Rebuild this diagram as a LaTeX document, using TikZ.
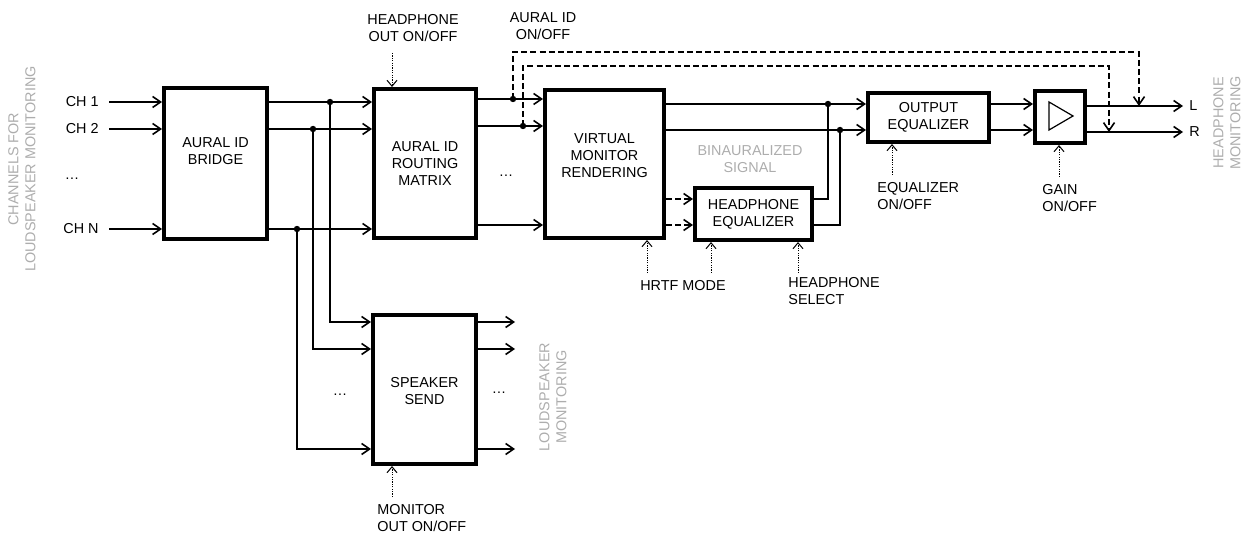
\documentclass[tikz,border=0pt]{standalone}
\usepackage{fontspec}
\setmainfont{Liberation Sans}
\usetikzlibrary{arrows.meta}
\definecolor{lightgry}{gray}{0.68}
\begin{document}
\begin{tikzpicture}[x=0.5pt,y=-0.5pt,
  font=\fontsize{7.2}{8.5}\selectfont,
  blk/.style={draw, line width=2pt, inner sep=0pt, align=center},
  txt/.style={inner sep=0pt, align=center},
  ltxt/.style={inner sep=0pt, align=left, anchor=west},
  gry/.style={inner sep=0pt, align=center, text=lightgry},
  ln/.style={line width=0.8pt},
  arr/.style={ln, -{Straight Barb[length=4pt,width=5.5pt,line width=0.8pt]}},
  dsh/.style={arr, dash pattern=on 3pt off 1.6pt},
  ctl/.style={line width=0.5pt, dash pattern=on 0.6pt off 0.6pt, -{Straight Barb[length=3pt,width=5pt,line width=0.5pt]}},
  dot/.style={circle, fill, inner sep=0pt, minimum size=3.2pt}
]
\useasboundingbox (0,0) rectangle (1246,533);

% blocks
\node[blk, minimum width=51.5pt, minimum height=75.5pt] (bridge) at (215.5,163.5) {};
\node[txt] (bridgetxt) at (215.5,151) {AURAL ID\\BRIDGE};
\node[blk, minimum width=51pt, minimum height=74.5pt] (routing) at (425,163.5) {AURAL ID\\ROUTING\\MATRIX};
\node[blk, minimum width=59.5pt, minimum height=74pt] (vmr) at (604.5,164) {};
\node[txt] (vmrtxt) at (604.5,156) {VIRTUAL\\MONITOR\\RENDERING};
\node[blk, minimum width=51.5pt, minimum height=74.5pt] (send) at (424.5,389.5) {};
\node[txt] (sendtxt) at (424.5,391) {SPEAKER\\SEND};
\node[blk, minimum width=60.5pt, minimum height=24.5pt] (oeq) at (928.5,117.5) {OUTPUT\\EQUALIZER};
\node[blk, minimum width=58.5pt, minimum height=26pt] (heq) at (753.5,214) {HEADPHONE\\EQUALIZER};
\node[blk, minimum width=25pt, minimum height=26pt] (gain) at (1060,117) {};
\draw[line width=0.6pt] (1049,102) -- (1073,116) -- (1049,130) -- cycle;

% input labels
\node[txt, anchor=east] (ch1) at (99,102) {CH 1};
\node[txt, anchor=east] (ch2) at (99,129) {CH 2};
\node[txt, anchor=east] (chn) at (99,229) {CH N};
\node[txt] (dots1) at (72,179) {…};
\draw[arr] ([xshift=5pt]ch1.east) -- (ch1 -| bridge.west);
\draw[arr] ([xshift=5pt]ch2.east) -- (ch2 -| bridge.west);
\draw[arr] ([xshift=5pt]chn.east) -- (chn -| bridge.west);

% bridge -> routing
\draw[arr] (bridge.east |- ch1) -- (routing.west |- ch1);
\draw[arr] (bridge.east |- ch2) -- (routing.west |- ch2);
\draw[arr] (bridge.east |- chn) -- (routing.west |- chn);

% branches to speaker send
\coordinate (j1) at (330,102);
\coordinate (j2) at (313,129);
\coordinate (j3) at (297,229);
\coordinate (si1) at (515,322);
\coordinate (si2) at (515,349);
\coordinate (si3) at (515,449);
\draw[arr] (j1) |- (send.west |- si1);
\draw[arr] (j2) |- (send.west |- si2);
\draw[arr] (j3) |- (send.west |- si3);
\node[dot] at (j1) {};
\node[dot] at (j2) {};
\node[dot] at (j3) {};
\draw[arr] (send.east |- si1) -- (si1);
\draw[arr] (send.east |- si2) -- (si2);
\draw[arr] (send.east |- si3) -- (si3);
\node[txt] (dots2) at (340,395) {…};
\node[txt] (dots3) at (499,393) {…};
\node[gry, rotate=90] (lsmon) at (553,397) {LOUDSPEAKER\\MONITORING};

% routing -> vmr
\coordinate (ro1) at (0,99);
\coordinate (ro2) at (0,126);
\coordinate (ro3) at (0,225);
\draw[arr] (routing.east |- ro1) -- (vmr.west |- ro1);
\draw[arr] (routing.east |- ro2) -- (vmr.west |- ro2);
\draw[arr] (routing.east |- ro3) -- (vmr.west |- ro3);
\node[txt] (dots4) at (506,176) {…};

% vmr -> output eq
\coordinate (vo1) at (0,104);
\coordinate (vo2) at (0,130);
\draw[arr] (vmr.east |- vo1) -- (oeq.west |- vo1);
\draw[arr] (vmr.east |- vo2) -- (oeq.west |- vo2);
\coordinate (m1) at (828,104);
\coordinate (m2) at (840,130);

% vmr -> headphone eq (dashed)
\coordinate (vd1) at (0,199);
\coordinate (vd2) at (0,225);
\draw[dsh] (vmr.east |- vd1) -- (heq.west |- vd1);
\draw[dsh] (vmr.east |- vd2) -- (heq.west |- vd2);
\draw[ln] (heq.east |- vd1) -| (m1);
\draw[ln] (heq.east |- vd2) -| (m2);
\node[dot] at (m1) {};
\node[dot] at (m2) {};
\node[gry] (bin) at (750,159.5) {BINAURALIZED\\SIGNAL};

% output eq -> gain
\draw[arr] (oeq.east |- vo1) -- (gain.west |- vo1);
\draw[arr] (oeq.east |- vo2) -- (gain.west |- vo2);

% gain -> outputs
\node[txt, anchor=west] (L) at (1189,106) {L};
\node[txt, anchor=west] (R) at (1189,132) {R};
\draw[arr] (gain.east |- L) -- ([xshift=-3pt]L.west);
\draw[arr] (gain.east |- R) -- ([xshift=-3pt]R.west);
\node[gry, rotate=90] (hpmon) at (1227,123) {HEADPHONE\\MONITORING};

% aural id on/off (dashed)
\node[txt] (aonoff) at (543,26) {AURAL ID\\ON/OFF};
\coordinate (d1) at (513,99);
\coordinate (d2) at (523,126);
\coordinate (t1) at (1139,52);
\coordinate (t2) at (1109,66);
\draw[dsh] (d1) -- (d1 |- t1) -- (t1) -- (t1 |- L);
\draw[dsh] (d2) -- (d2 |- t2) -- (t2) -- (t2 |- R);
\node[dot] at (d1) {};
\node[dot] at (d2) {};

% chans label
\node[gry, rotate=90] (chans) at (22,169) {CHANNELS FOR\\LOUDSPEAKER MONITORING};

% controls
\node[txt] (hpout) at (413,28) {HEADPHONE\\OUT ON/OFF};
\coordinate (c1) at (392,53);
\draw[ctl] (c1) -- (c1 |- routing.north);

\node[txt] (hrtf) at (683,286) {HRTF MODE};
\coordinate (c2) at (647,273);
\draw[ctl] (c2) -- (c2 |- vmr.south);
\coordinate (c3) at (711,273);
\draw[ctl] (c3) -- (c3 |- heq.south);

\node[ltxt] (hpsel) at (788,291.5) {HEADPHONE\\SELECT};
\coordinate (c4) at (798,273);
\draw[ctl] (c4) -- (c4 |- heq.south);

\node[ltxt] (eqonoff) at (877,196.5) {EQUALIZER\\ON/OFF};
\coordinate (c5) at (892,175);
\draw[ctl] (c5) -- (c5 |- oeq.south);

\node[ltxt] (gainonoff) at (1042,198.5) {GAIN\\ON/OFF};
\coordinate (c6) at (1059,177);
\draw[ctl] (c6) -- (c6 |- gain.south);

\node[ltxt] (monout) at (377,518.5) {MONITOR\\OUT ON/OFF};
\coordinate (c7) at (392,497);
\draw[ctl] (c7) -- (c7 |- send.south);
\end{tikzpicture}
\end{document}
